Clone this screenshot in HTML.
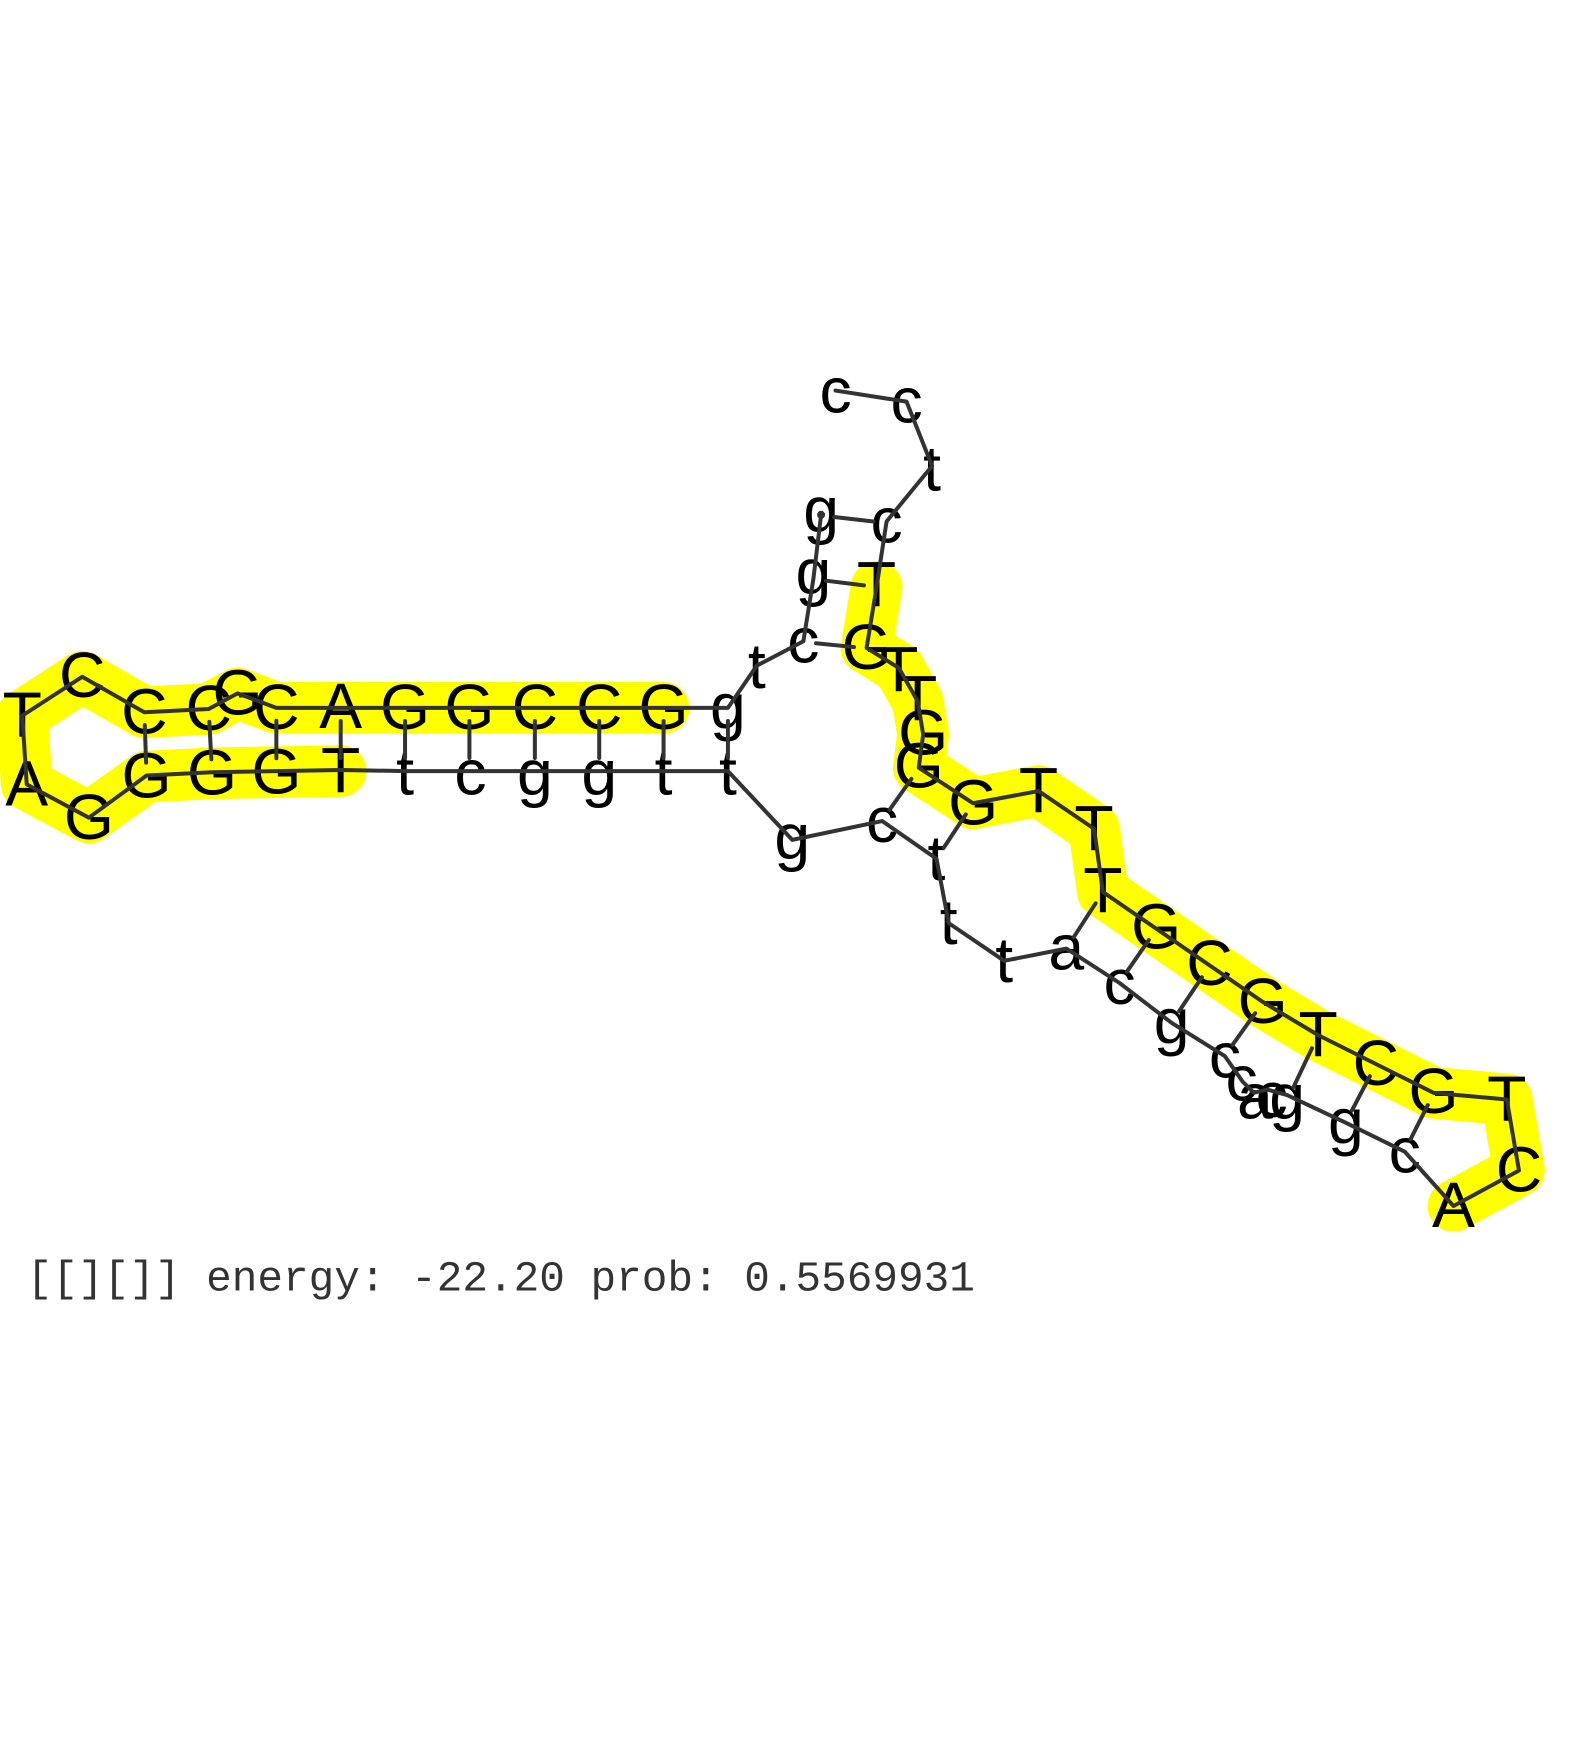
<!DOCTYPE html>
<html><head><meta charset="utf-8"><style>
html,body{margin:0;padding:0;background:#fff}
svg{display:block}
.n text{font-family:"Liberation Sans",sans-serif;font-size:58px;fill:#000;text-anchor:middle}
</style></head><body>
<svg width="1569" height="1743" viewBox="0 0 1414 1571" xmlns="http://www.w3.org/2000/svg">
<g transform="translate(2,2)">
<g fill="none" stroke="#ffff00" stroke-width="46.5" stroke-linecap="round" stroke-linejoin="round">
<polyline points="596,636 538,636 480,636 421,636 363,636 305,636 247,636 212,623 186,637 128,640 72,608 18,643 22,705 78,735 130,698 189,695 247,694 305,693"/>
<polyline points="788,527 779,582 808,600 825,630 830,660 826,690 875,722 934,711 984,745 992,802 1040,835 1088,868 1136,901 1186,931 1238,957 1290,983 1356,989 1367,1053 1308,1085"/>
</g>
<g class="n" transform="translate(0,21)">
<text x="751" y="349">c</text><text x="815" y="358">c</text><text x="838" y="419">t</text><text x="797" y="466">c</text>
<text x="788" y="523">T</text><text x="779" y="580">G</text><text x="808" y="600">T</text><text x="825" y="626">T</text><text x="830" y="657">G</text><text x="826" y="687">G</text><text x="875" y="720">G</text><text x="934" y="709">T</text><text x="984" y="743">T</text><text x="992" y="799">T</text><text x="1040" y="832">G</text><text x="1088" y="865">C</text><text x="1136" y="899">G</text><text x="1186" y="929">T</text><text x="1238" y="955">C</text><text x="1290" y="980">G</text><text x="1356" y="987">T</text><text x="1367" y="1051">C</text><text x="1308" y="1083">A</text>
<text x="1264" y="1034">c</text><text x="1211" y="1007">g</text><text x="1158" y="985">g</text><text x="1144" y="984">c</text><text x="1129" y="985">a</text><text x="1117" y="969">c</text><text x="1102" y="948">c</text><text x="1054" y="917">g</text><text x="1007" y="882">c</text><text x="959" y="851">a</text><text x="903" y="862">t</text><text x="853" y="828">t</text><text x="842" y="770">t</text><text x="793" y="736">c</text><text x="712" y="751">g</text>
<text x="654" y="693">t</text><text x="596" y="693">t</text><text x="538" y="693">g</text><text x="480" y="693">g</text><text x="422" y="693">c</text><text x="363" y="693">t</text>
<text x="305" y="691">T</text><text x="247" y="692">G</text><text x="189" y="693">G</text><text x="130" y="696">G</text><text x="78" y="733">G</text><text x="22" y="703">A</text><text x="18" y="641">T</text><text x="72" y="605">C</text><text x="128" y="638">C</text><text x="186" y="635">C</text><text x="212" y="621">G</text><text x="247" y="634">C</text>
<text x="305" y="633">A</text><text x="363" y="634">G</text><text x="421" y="634">G</text><text x="480" y="634">C</text><text x="538" y="634">C</text><text x="596" y="634">G</text>
<text x="654" y="633">g</text><text x="680" y="597">t</text><text x="722" y="574">c</text><text x="731" y="512">g</text><text x="738" y="456">g</text>
</g>
<g fill="none" stroke="#333" stroke-width="3.6" stroke-linecap="round" stroke-linejoin="round">
<polyline points="751,350 815,360 838,418 797,468 788,527 779,582 808,600 825,630 830,660 826,690 875,722 934,711 984,745 992,802 1040,835 1088,868 1136,901 1186,931 1238,957 1290,983 1356,989 1367,1053 1308,1085 1264,1036 1211,1010 1158,985 1140,980 1128,983 1118,973 1102,950 1054,920 1007,884 959,853 903,864 853,830 842,772 793,738 712,755 654,693 596,693 538,693 480,693 422,693 363,693 305,692 247,693 189,694 130,697 78,735 22,705 18,643 72,608 128,640 186,637 212,623 247,636 305,636 363,636 421,636 480,636 538,636 596,636 654,636 680,598 722,576 731,520 738,462"/>
<path d="M749.8 464L785.2 468M742.4 521.4L776.6 525.6M733.4 577.8L767.6 581.2M654 647.8V681.2M596 647.8V681.2M538 647.8V681.2M480 647.8V681.2M421 647.8V681.2M363 647.8V681.2M305 647.8V681.2M247 647.6V681.4M186.6 648.6L188.4 682.4M128.4 651.6L129.6 685.4M819.4 700L799.6 728M868.4 732L848.6 762M985.4 812.2L965.6 842.8M1033.4 845.2L1013.6 873.8M1081.2 878.8L1060.8 909.2M1129.2 911.2L1108.8 939.8M1180.4 942.8L1163.6 978.2M1232.6 968L1216.4 999M1284.8 994L1269.2 1025"/>
</g>
<circle cx="738" cy="462" r="3.6" fill="#333"/>
</g>
<text x="24" y="1163" font-family="'Liberation Mono',monospace" font-size="38.5" fill="#333">[[][]] energy: -22.20 prob: 0.5569931</text>
</svg>
</body></html>
